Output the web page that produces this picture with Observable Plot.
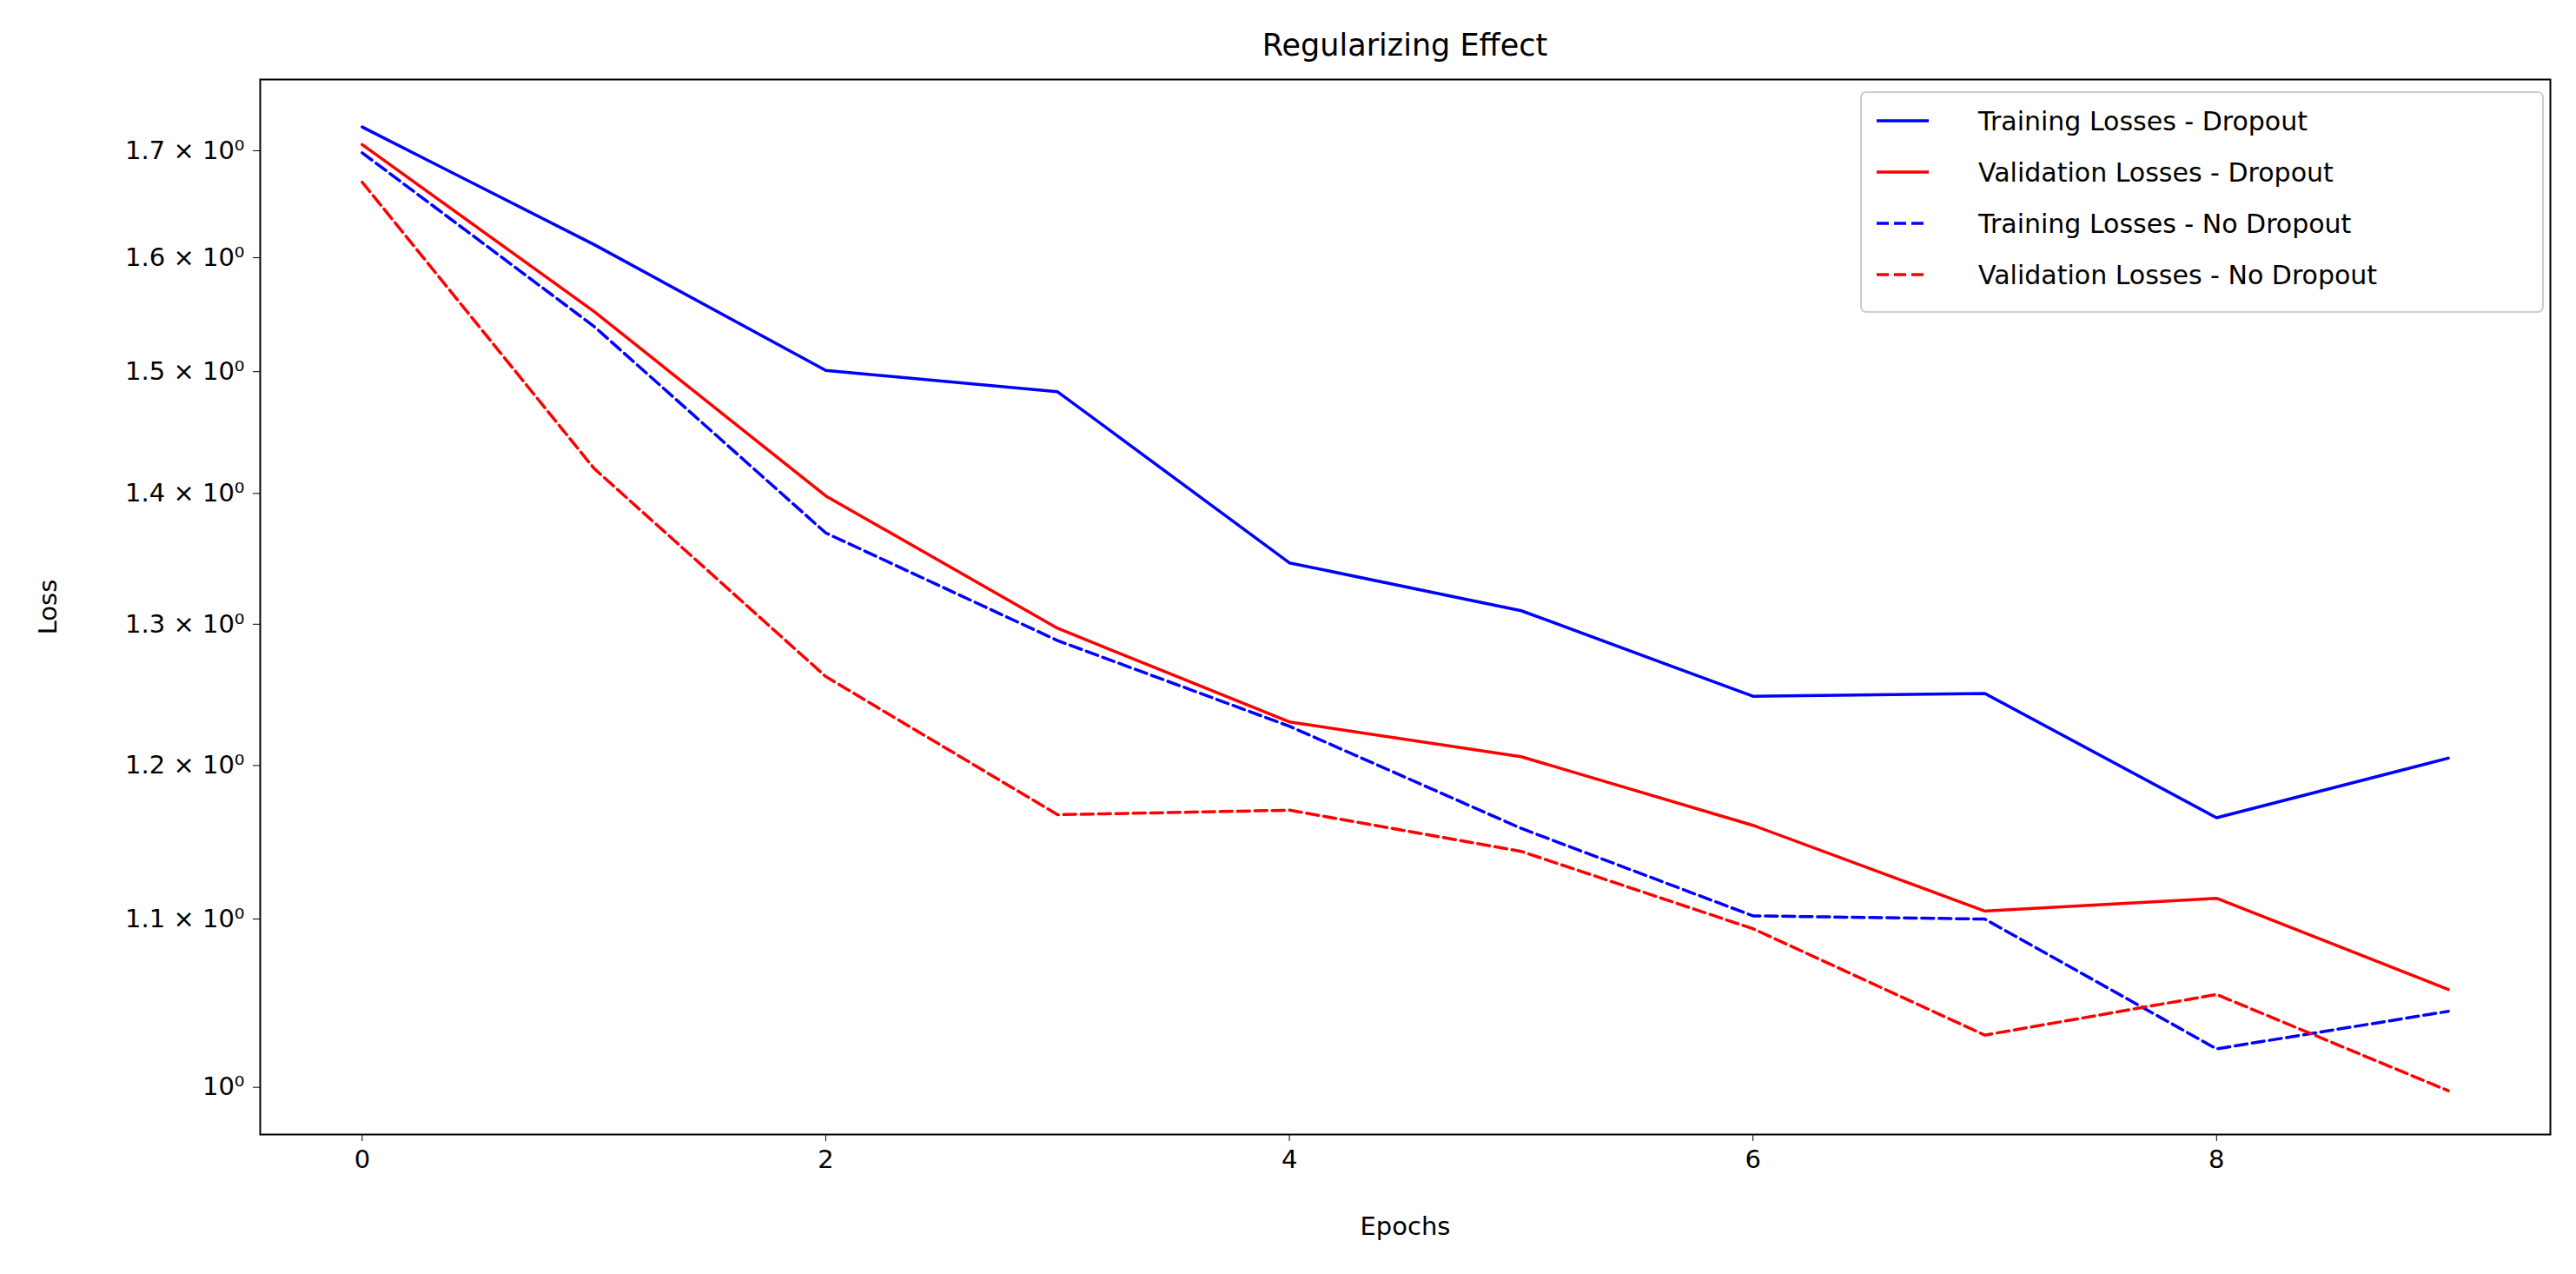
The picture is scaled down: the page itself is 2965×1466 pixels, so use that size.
<!DOCTYPE html>
<html><head><meta charset="utf-8">
<script src="https://cdn.jsdelivr.net/npm/d3@7"></script>
<script src="https://cdn.jsdelivr.net/npm/@observablehq/plot@0.6"></script>
<style>body{margin:0;background:#fff}svg{font-family:"DejaVu Sans",sans-serif}</style>
</head><body><div id="c"></div>
<script>
const epochs=[0,1,2,3,4,5,6,7,8,9];
const trainDrop=[1.723,1.612,1.501,1.483,1.346,1.310,1.248,1.250,1.165,1.205];
const valDrop=[1.706,1.552,1.398,1.297,1.230,1.206,1.160,1.105,1.113,1.057];
const trainNo=[1.698,1.539,1.369,1.288,1.227,1.158,1.102,1.100,1.022,1.044];
const valNo=[1.670,1.420,1.262,1.167,1.170,1.143,1.094,1.030,1.054,0.998];
const series=[
 {name:"Training Losses - Dropout",v:trainDrop,color:"blue",dash:null},
 {name:"Validation Losses - Dropout",v:valDrop,color:"red",dash:null},
 {name:"Training Losses - No Dropout",v:trainNo,color:"blue",dash:"14,6"},
 {name:"Validation Losses - No Dropout",v:valNo,color:"red",dash:"14,6"}];
const yTicks=[1.0,1.1,1.2,1.3,1.4,1.5,1.6,1.7];
const xTicks=[0,2,4,6,8];
const W=2965,H=1466;
const marks=[Plot.frame({stroke:"black",strokeWidth:2})];
for(const s of series){
  marks.push(Plot.line(epochs.map((e,i)=>({e,v:s.v[i]})),{x:"e",y:"v",stroke:s.color,strokeWidth:3.5,strokeDasharray:s.dash}));
}
const plot=Plot.plot({width:W,height:H,marginLeft:299,marginRight:30,marginTop:91,marginBottom:161,
 style:{fontSize:"29px",fontFamily:"DejaVu Sans"},
 x:{domain:[-0.44,9.44],ticks:xTicks,tickSize:8,tickPadding:10,label:"Epochs",labelAnchor:"center",labelArrow:false,labelOffset:115},
 y:{type:"log",domain:[0.9736,1.77],ticks:yTicks,tickSize:8,tickPadding:10,label:"Loss",labelAnchor:"center",labelArrow:false,labelOffset:255,
    tickFormat:d=>d===1?"10⁰":`${d.toFixed(1)} × 10⁰`},
 marks});
const svg=d3.select(plot);
svg.append("text").attr("x",299+(W-299-30)/2).attr("y",64).attr("text-anchor","middle").style("font-size","35px").text("Regularizing Effect");
const lx=2142,ly=106;
const g=svg.append("g");
g.append("rect").attr("x",lx).attr("y",ly).attr("width",785).attr("height",253).attr("rx",6).attr("fill","white").attr("stroke","#ccc").attr("stroke-width",2);
series.forEach((s,i)=>{
  const y=ly+33+i*59;
  g.append("line").attr("x1",lx+18).attr("x2",lx+78).attr("y1",y).attr("y2",y).attr("stroke",s.color).attr("stroke-width",3.5).attr("stroke-dasharray",s.dash);
  g.append("text").attr("x",lx+135).attr("y",y).attr("dy","0.35em").attr("text-anchor","start").style("font-size","30px").text(s.name);
});
document.getElementById("c").appendChild(plot);
</script></body></html>
